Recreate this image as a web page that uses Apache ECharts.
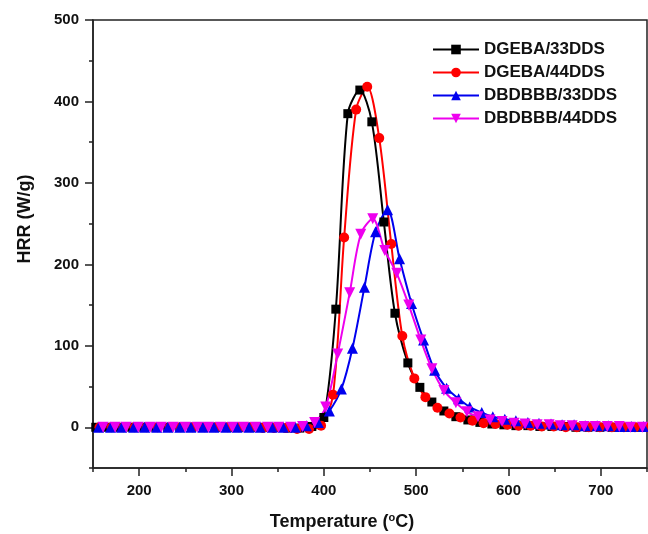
<!DOCTYPE html>
<html>
<head>
<meta charset="utf-8">
<script src="https://cdn.jsdelivr.net/npm/echarts@6/dist/echarts.min.js"></script>
<style>
  html, body { margin: 0; padding: 0; background: #fff; }
  #chart { width: 648px; height: 534px; }
</style>
</head>
<body>
<div id="chart"></div>
<script>
// HRR curves (temperature in °C, HRR in W/g)
const seriesNames = ["DGEBA/33DDS", "DGEBA/44DDS", "DBDBBB/33DDS", "DBDBBB/44DDS"];

const tempA = [153,166,179,192,205,218,231,244,257,270,283,296,309,322,335,348,361,374,387,400,413,426,439,452,465,477,491,504,517,530,543,556,569,582,595,608,621,634,647,660,673,686,699,712,725,738,751];
const hrrA  = [0,0,0,0,0,0,0,0,0,0,0,0,0,0,0,0,-1,-1,1,12,145,385,414,375,252,140,79,49,31,20,13,9,6,4,3,2,2,1,1,1,0,0,0,0,0,0,0];

const tempB = [157,170,183,195,208,220,233,245,258,271,283,296,308,321,334,346,359,371,384,397,410,422,435,447,460,473,485,498,510,523,536,548,561,573,586,599,611,624,636,649,662,674,687,699,712,725,737,750];
const hrrB  = [0,0,0,0,0,0,0,0,0,0,0,0,0,0,-1,-1,-1,-2,-2,2,40,233,390,418,355,225,112,60,37,24,17,12,8,5,4,3,2,2,1,1,0,0,0,0,0,0,0,0];

const tempC = [156,169,181,194,206,219,231,244,256,269,281,294,306,319,331,344,356,369,381,394,406,419,431,444,456,469,482,495,508,520,533,546,558,571,583,596,608,621,633,646,658,671,683,696,708,721,733,746,758];
const hrrC  = [0,0,0,0,0,0,0,0,0,0,0,0,0,0,0,0,0,0,2,6,20,47,97,172,240,267,207,152,107,70,48,35,25,18,13,10,8,6,5,4,3,3,2,2,2,1,1,1,1];

const tempD = [161,174,186,199,212,224,237,250,263,275,288,301,313,326,339,351,364,377,390,402,415,428,440,453,466,479,492,505,517,530,543,555,567,580,593,606,618,631,644,656,669,682,694,707,720,732,745,758];
const hrrD  = [0,0,0,0,0,0,0,0,0,0,0,0,0,0,0,0,0,1,6,25,90,165,237,256,217,189,150,107,72,45,30,19,13,9,7,5,4,3,3,2,2,1,1,1,1,0,0,0];

const xTicks = [200, 300, 400, 500, 600, 700];
const xMinorTicks = [150, 250, 350, 450, 550, 650, 750];
const yTicks = [0, 100, 200, 300, 400, 500];
const yMinorTicks = [-50, 50, 150, 250, 350, 450];

const FONT = "'Liberation Sans', Arial, sans-serif";
const INK = "#111";
const zip = (xs, ys) => xs.map((x, i) => [x, ys[i]]);

const chart = echarts.init(document.getElementById("chart"), null, { renderer: "canvas" });

// 系列样式：Origin 默认配色
const makeSeries = (name, xs, ys, color, symbol, size) => ({
  name,
  type: "line",
  data: zip(xs, ys),
  smooth: 0.3,
  symbol,
  symbolSize: size,
  showSymbol: true,
  lineStyle: { color, width: 2 },
  itemStyle: { color, borderColor: color, borderWidth: 0 },
  clip: true,
});

const labelStyle = { fontFamily: FONT, fontWeight: "bold", fontSize: 15, color: INK };
const axisLineStyle = { color: "#222", width: 1.5 };

chart.setOption({
  backgroundColor: "#fff",
  animation: false,
  grid: {
    left: 93, right: 1, top: 20, bottom: 66,
    containLabel: false,
    outerBoundsMode: "none",
    show: true, borderColor: "#222", borderWidth: 1.5, backgroundColor: "transparent",
  },
  legend: {
    orient: "vertical",
    left: 427, top: 36,
    itemWidth: 46, itemHeight: 12, itemGap: 6,
    data: seriesNames,
    textStyle: { fontFamily: FONT, fontWeight: "bold", fontSize: 17, color: INK },
  },
  xAxis: [
    {
      type: "value",
      min: 150, max: 750, interval: 50,
      name: "Temperature ({s|o}C)",
      nameLocation: "middle",
      nameGap: 44,
      nameTextStyle: {
        fontFamily: FONT, fontWeight: "bold", fontSize: 18, color: INK,
        padding: [0, 56, 0, 0],
        rich: { s: { fontFamily: FONT, fontSize: 11, fontWeight: "bold", color: INK, verticalAlign: "top", padding: [0, 0, 9, 0] } },
      },
      axisLine: { onZero: false, lineStyle: axisLineStyle },
      axisTick: { show: true, inside: false, length: 8, lineStyle: axisLineStyle, customValues: xTicks },
      axisLabel: { margin: 15, customValues: xTicks, ...labelStyle },
      splitLine: { show: false },
    },
    {
      // minor ticks only
      type: "value",
      position: "bottom",
      offset: 0,
      min: 150, max: 750, interval: 50,
      axisLine: { show: false, onZero: false },
      axisTick: { show: true, inside: false, length: 4, lineStyle: axisLineStyle, customValues: xMinorTicks },
      axisLabel: { show: false },
      splitLine: { show: false },
    },
  ],
  yAxis: [
    {
      type: "value",
      min: -50, max: 500, interval: 50,
      name: "HRR (W/g)",
      nameLocation: "middle",
      nameGap: 59,
      nameRotate: 90,
      nameTextStyle: { fontFamily: FONT, fontWeight: "bold", fontSize: 18, color: INK, padding: [0, 0, 0, 50] },
      axisLine: { onZero: false, lineStyle: axisLineStyle },
      axisTick: { show: true, inside: false, length: 8, lineStyle: axisLineStyle, customValues: yTicks },
      axisLabel: { margin: 14, customValues: yTicks, ...labelStyle },
      splitLine: { show: false },
    },
    {
      type: "value",
      position: "left",
      offset: 0,
      min: -50, max: 500, interval: 50,
      axisLine: { show: false, onZero: false },
      axisTick: { show: true, inside: false, length: 4, lineStyle: axisLineStyle, customValues: yMinorTicks },
      axisLabel: { show: false },
      splitLine: { show: false },
    },
  ],
  series: [
    makeSeries(seriesNames[0], tempA, hrrA, "#000000", "rect", 9),
    makeSeries(seriesNames[1], tempB, hrrB, "#ff0000", "circle", 10),
    makeSeries(seriesNames[2], tempC, hrrC, "#0000ee", "triangle", 11),
    makeSeries(seriesNames[3], tempD, hrrD, "#ee00ee", "path://M0,0 L10,0 L5,10 Z", 11),
  ],
});
</script>
</body>
</html>
